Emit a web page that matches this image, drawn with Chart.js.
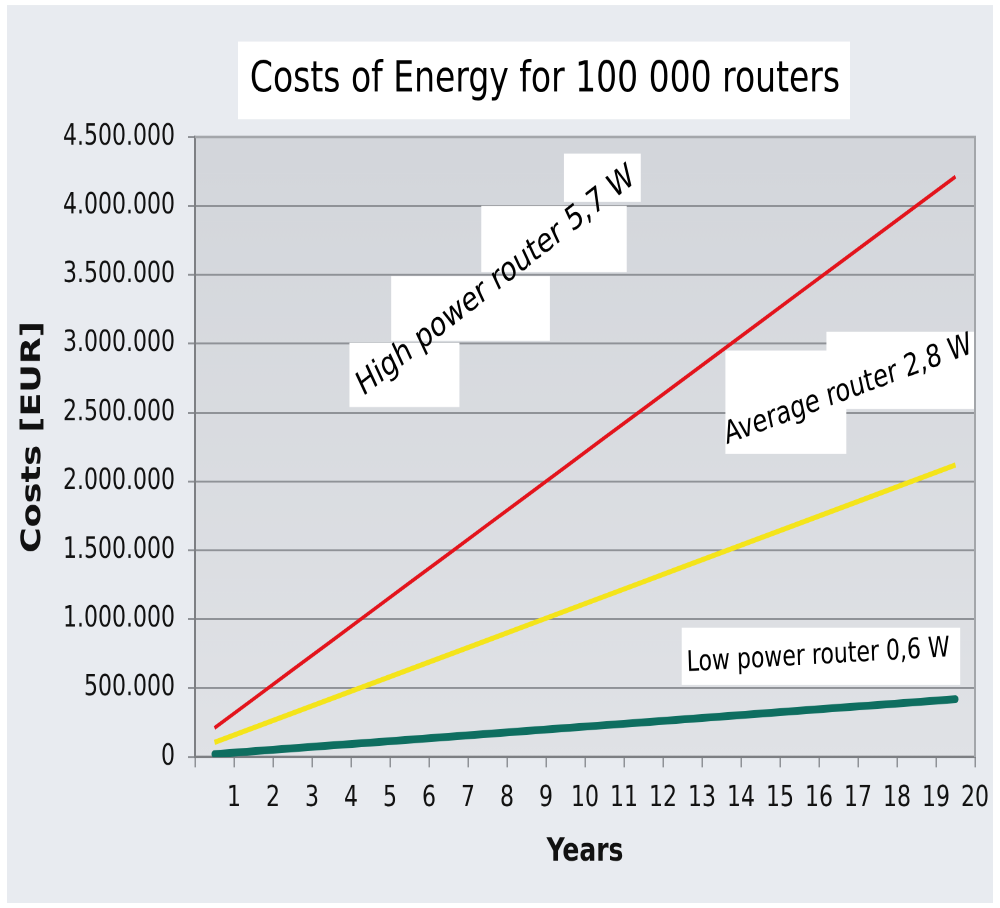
<!DOCTYPE html>
<html>
<head>
<meta charset="utf-8">
<script src="https://cdn.jsdelivr.net/npm/chart.js@4/dist/chart.umd.min.js"></script>
<style>
  html, body { margin: 0; padding: 0; background: #ffffff; }
  canvas { display: block; }
</style>
</head>
<body>
<canvas id="myChart" width="1000" height="700" style="width:1000px;height:908px"></canvas>
<script>
// data (EUR, cumulative per year)
var years = [1, 2, 3, 4, 5, 6, 7, 8, 9, 10, 11, 12, 13, 14, 15, 16, 17, 18, 19, 20];
var highPower = [211000, 421000, 632000, 842000, 1053000, 1264000, 1474000, 1685000, 1895000, 2106000,
                 2317000, 2527000, 2738000, 2948000, 3159000, 3370000, 3580000, 3791000, 4001000, 4212000];
var averagePower = [106000, 212000, 318000, 424000, 530000, 636000, 742000, 848000, 954000, 1060000,
                    1166000, 1272000, 1378000, 1484000, 1590000, 1696000, 1802000, 1908000, 2014000, 2120000];
var lowPower = [21000, 42000, 63000, 84000, 105000, 126000, 147000, 168000, 189000, 210000,
                231000, 252000, 273000, 294000, 315000, 336000, 357000, 378000, 399000, 420000];
var yTicks = [0, 500000, 1000000, 1500000, 2000000, 2500000, 3000000, 3500000, 4000000, 4500000];
var seriesNames = ['High power router 5,7 W', 'Average router 2,8 W', 'Low power router 0,6 W'];

// points sit in the middle of each year band
function toPoints(vals) {
  return years.map(function (yr, i) { return { x: yr - 0.5, y: vals[i] }; });
}
function fmt(v) {
  return String(v).replace(/\B(?=(\d{3})+(?!\d))/g, '.');
}

// white label boxes behind the notes, in data units [x0, x1, y0, y1]
var noteBoxes = [
  [3.96, 6.78, 2540000, 3006000],
  [5.03, 9.10, 3020000, 3490000],
  [7.34, 11.07, 3520000, 4000000],
  [9.46, 11.43, 4030000, 4380000],
  [16.19, 20, 2525000, 3086000],
  [13.6, 16.7, 2200000, 2950000],
  [12.48, 19.62, 524000, 939000]
];
var notes = [
  { text: seriesNames[0], x: 7.72, y: 3450000, angle: -31.2, size: 26 },
  { text: seriesNames[1], x: 16.75, y: 2660000, angle: -16, size: 24 },
  { text: seriesNames[2], x: 15.98, y: 731000, angle: -2.5, size: 22 }
];

var decor = {
  id: 'decor',
  beforeDraw: function (chart) {
    var c = chart.ctx, a = chart.chartArea;
    c.save();
    c.fillStyle = '#ffffff';
    c.fillRect(0, 0, chart.width, chart.height);
    c.fillStyle = '#e8ebf0';
    c.fillRect(7, 4, 986, 692);
    var g = c.createLinearGradient(0, a.top, 0, a.bottom);
    g.addColorStop(0, '#d3d6db');
    g.addColorStop(1, '#e0e2e6');
    c.fillStyle = g;
    c.fillRect(a.left, a.top, a.right - a.left, a.bottom - a.top);
    // title
    c.fillStyle = '#ffffff';
    c.fillRect(238, 32, 612, 60);
    c.fillStyle = '#000000';
    c.font = '33px "DejaVu Sans"';
    c.textAlign = 'center';
    c.textBaseline = 'middle';
    c.fillText('Costs of Energy for 100 000 routers', 545, 62);
    c.restore();
  },
  beforeDatasetsDraw: function (chart) {
    var c = chart.ctx, xs = chart.scales.x, ys = chart.scales.y;
    c.save();
    c.fillStyle = '#ffffff';
    noteBoxes.forEach(function (b) {
      var x0 = xs.getPixelForValue(b[0]), x1 = xs.getPixelForValue(b[1]);
      var y0 = ys.getPixelForValue(b[3]), y1 = ys.getPixelForValue(b[2]);
      c.fillRect(x0, y0, x1 - x0, y1 - y0);
    });
    c.fillStyle = '#000000';
    c.textAlign = 'center';
    c.textBaseline = 'middle';
    notes.forEach(function (n) {
      c.save();
      c.translate(xs.getPixelForValue(n.x), ys.getPixelForValue(n.y));
      c.rotate(n.angle * Math.PI / 180);
      c.font = n.size + 'px "DejaVu Sans"';
      c.fillText(n.text, 0, 0);
      c.restore();
    });
    c.restore();
  },
  afterDraw: function (chart) {
    var c = chart.ctx, a = chart.chartArea;
    c.save();
    c.strokeStyle = '#a3a6aa';
    c.lineWidth = 2;
    c.beginPath();
    c.moveTo(a.left, a.top);
    c.lineTo(a.right, a.top);
    c.lineTo(a.right, a.bottom);
    c.stroke();
    c.fillStyle = '#111111';
    c.textAlign = 'center';
    c.textBaseline = 'middle';
    c.font = 'bold 25px "DejaVu Sans"';
    c.fillText('Years', (a.left + a.right) / 2, 657);
    c.translate(33, 337);
    c.rotate(-Math.PI / 2);
    c.font = 'bold 27px "DejaVu Sans"';
    c.fillText('Costs [EUR]', 0, 0);
    c.restore();
  }
};

var ctx = document.getElementById('myChart');
var myChart = new Chart(ctx, {
  type: 'line',
  data: {
    datasets: [{
      label: seriesNames[0],
      data: toPoints(highPower),
      borderColor: '#e3141c',
      borderWidth: 3
    }, {
      label: seriesNames[1],
      data: toPoints(averagePower),
      borderColor: '#f4e41a',
      borderWidth: 4
    }, {
      label: seriesNames[2],
      data: toPoints(lowPower),
      borderColor: '#0e6e60',
      borderWidth: 6,
      borderCapStyle: 'round'
    }]
  },
  options: {
    responsive: false,
    animation: false,
    devicePixelRatio: 2,
    layout: { padding: { left: 0, right: 22, top: 105.6, bottom: 0 } },
    elements: { point: { radius: 0 }, line: { tension: 0 } },
    plugins: { legend: { display: false }, tooltip: { enabled: false } },
    scales: {
      x: {
        type: 'linear',
        min: 0,
        max: 20,
        afterFit: function (s) { s.height = 116.4; },
        grid: { drawOnChartArea: false, drawTicks: true, tickLength: 8, color: '#8f9297', lineWidth: 1.5 },
        border: { color: '#7d7f83', width: 2 },
        ticks: {
          stepSize: 1,
          autoSkip: false,
          maxRotation: 0,
          padding: 11,
          color: '#111111',
          font: { family: 'DejaVu Sans', size: 22 },
          callback: function (v) { return v === 0 ? '' : v; }
        }
      },
      y: {
        min: 0,
        max: 4500000,
        afterFit: function (s) { s.width = 195; },
        afterBuildTicks: function (s) { s.ticks = yTicks.map(function (v) { return { value: v }; }); },
        grid: { color: '#8f9297', lineWidth: 1.5, tickLength: 7 },
        border: { color: '#7d7f83', width: 2 },
        ticks: {
          padding: 13,
          color: '#111111',
          font: { family: 'DejaVu Sans', size: 22 },
          callback: function (v) { return fmt(v); }
        }
      }
    }
  },
  plugins: [decor]
});
</script>
</body>
</html>
